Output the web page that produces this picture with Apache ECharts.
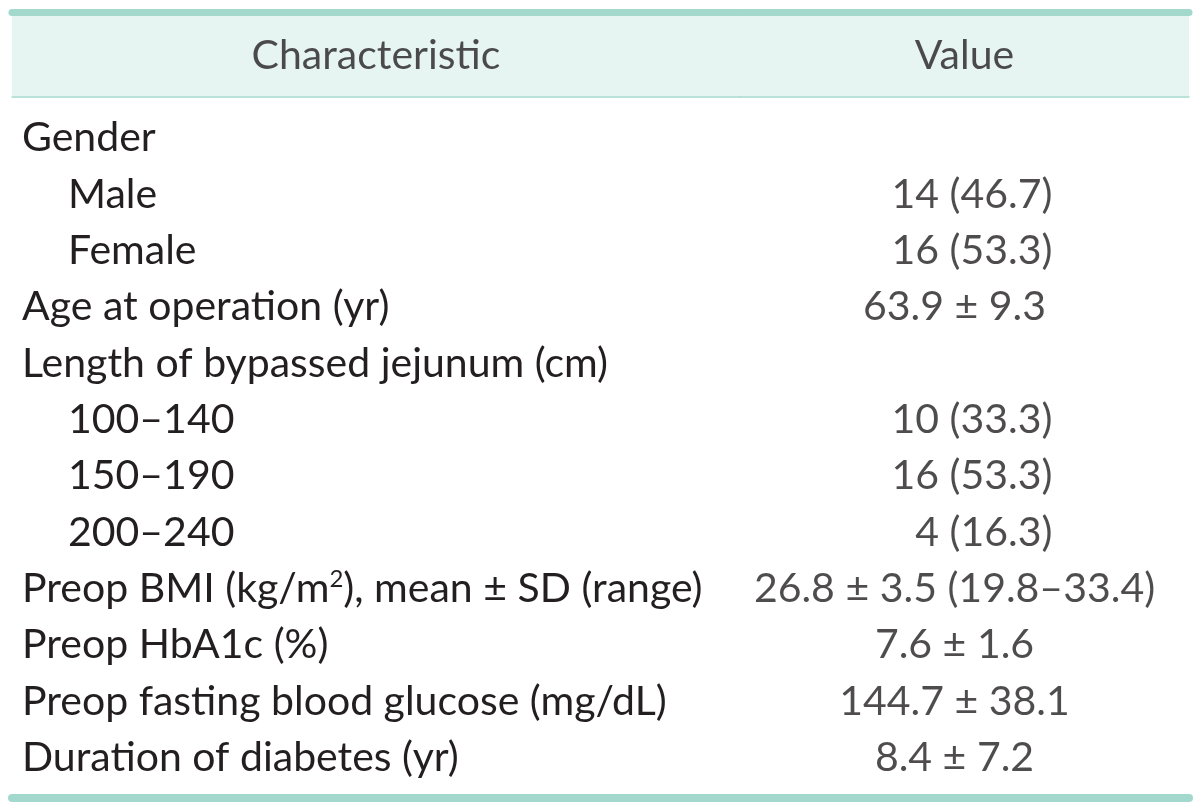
<!DOCTYPE html>
<html>
<head>
<meta charset="utf-8">
<script src="https://cdn.jsdelivr.net/npm/echarts@6/dist/echarts.min.js"></script>
<style>html,body{margin:0;padding:0;background:#fff}#c{width:1200px;height:810px}</style>
</head>
<body>
<div id="c"></div>
<script>
// ---- data ----
var headers = ['Characteristic', 'Value'];
var characteristics = [
  'Gender', 'Male', 'Female', 'Age at operation (yr)',
  'Length of bypassed jejunum (cm)', '100\u2013140', '150\u2013190', '200\u2013240',
  'Preop BMI (kg/m{sup|2}), mean \u00b1 SD (range)', 'Preop HbA1c (%)',
  'Preop fasting blood glucose (mg/dL)', 'Duration of diabetes (yr)'
];
var levels = [0, 1, 1, 0, 0, 1, 1, 1, 0, 0, 0, 0];
var values = [
  '', '14 (46.7)', '16 (53.3)', '63.9 \u00b1 9.3',
  '', '10 (33.3)', '16 (53.3)', '4 (16.3)',
  '26.8 \u00b1 3.5 (19.8\u201333.4)', '7.6 \u00b1 1.6',
  '144.7 \u00b1 38.1', '8.4 \u00b1 7.2'
];

// ---- style ----
var FONT = 'Lato';
var FS = 41;
var TXT = '#231f20';
var RULE = '#a3d9cc';
var HEAD_BG = '#e7f5f2';

var chart = echarts.init(document.getElementById('c'), null, {renderer: 'canvas'});

var rowNames = characteristics.map(function (c, i) { return 'r' + i; });

function hiddenCat(gi, data, extra) {
  return Object.assign({
    type: 'category', gridIndex: gi, data: data,
    axisLine: {show: false}, axisTick: {show: false}, axisLabel: {show: false},
    splitLine: {show: false}
  }, extra || {});
}

var baseLabel = {fontFamily: FONT, fontSize: FS, color: TXT};

var option = {
  animation: false,
  backgroundColor: '#ffffff',
  grid: [
    {left: 12, top: 16, width: 728, height: 80, show: true, backgroundColor: HEAD_BG, borderWidth: 0},
    {left: 740, top: 16, width: 449, height: 80, show: true, backgroundColor: HEAD_BG, borderWidth: 0},
    {left: 12, top: 110, width: 728, height: 676},
    {left: 740, top: 110, width: 449, height: 676}
  ],
  xAxis: [
    hiddenCat(0, [headers[0]], {position: 'top', offset: 3.5, axisLine: {show: true, lineStyle: {color: RULE, width: 7}}}),
    hiddenCat(0, [headers[0]], {position: 'bottom', offset: 0.5, axisLine: {show: true, lineStyle: {color: RULE, width: 1.5}}}),
    hiddenCat(1, [headers[1]], {position: 'top', offset: 3.5, axisLine: {show: true, lineStyle: {color: RULE, width: 7}}}),
    hiddenCat(1, [headers[1]], {position: 'bottom', offset: 0.5, axisLine: {show: true, lineStyle: {color: RULE, width: 1.5}}}),
    hiddenCat(2, [headers[0]], {position: 'bottom', offset: 12, axisLine: {show: true, lineStyle: {color: RULE, width: 8}}}),
    hiddenCat(3, [headers[1]], {position: 'bottom', offset: 12, axisLine: {show: true, lineStyle: {color: RULE, width: 8}}})
  ],
  yAxis: [
    hiddenCat(0, ['h']),
    hiddenCat(1, ['h']),
    {
      type: 'category', gridIndex: 2, data: rowNames, inverse: true,
      axisLine: {show: false}, axisTick: {show: false}, splitLine: {show: false},
      axisLabel: {
        show: true, inside: true, margin: 10,
        fontFamily: FONT, fontSize: FS, color: TXT,
        formatter: function (v, i) {
          var t = characteristics[i];
          return levels[i] ? '{ind|' + t + '}' : t;
        },
        rich: {
          ind: {fontFamily: FONT, fontSize: FS, color: TXT, padding: [0, 0, 0, 46]},
          sup: {fontFamily: FONT, fontSize: 24, color: TXT, padding: [0, 0, 20, 0]}
        }
      }
    },
    hiddenCat(3, rowNames, {inverse: true})
  ],
  series: [
    {
      type: 'scatter', xAxisIndex: 0, yAxisIndex: 0, symbolSize: 0, silent: true,
      data: [[0, 0]],
      label: Object.assign({show: true, position: 'inside', formatter: headers[0]}, baseLabel)
    },
    {
      type: 'scatter', xAxisIndex: 2, yAxisIndex: 1, symbolSize: 0, silent: true,
      data: [[0, 0]],
      label: Object.assign({show: true, position: 'inside', formatter: headers[1]}, baseLabel)
    },
    {
      type: 'scatter', xAxisIndex: 5, yAxisIndex: 3, symbolSize: 0, silent: true,
      data: values.map(function (v, i) {
        var pm = v.indexOf('\u00b1') >= 0;
        return {
          value: [0, i],
          label: pm ? {align: 'center', offset: [-10, 0]} : {align: 'right', offset: [88, 0]}
        };
      }),
      label: Object.assign({
        show: true, position: 'inside',
        formatter: function (p) { return values[p.dataIndex]; }
      }, baseLabel)
    }
  ]
};
chart.setOption(option);
</script>
</body>
</html>
